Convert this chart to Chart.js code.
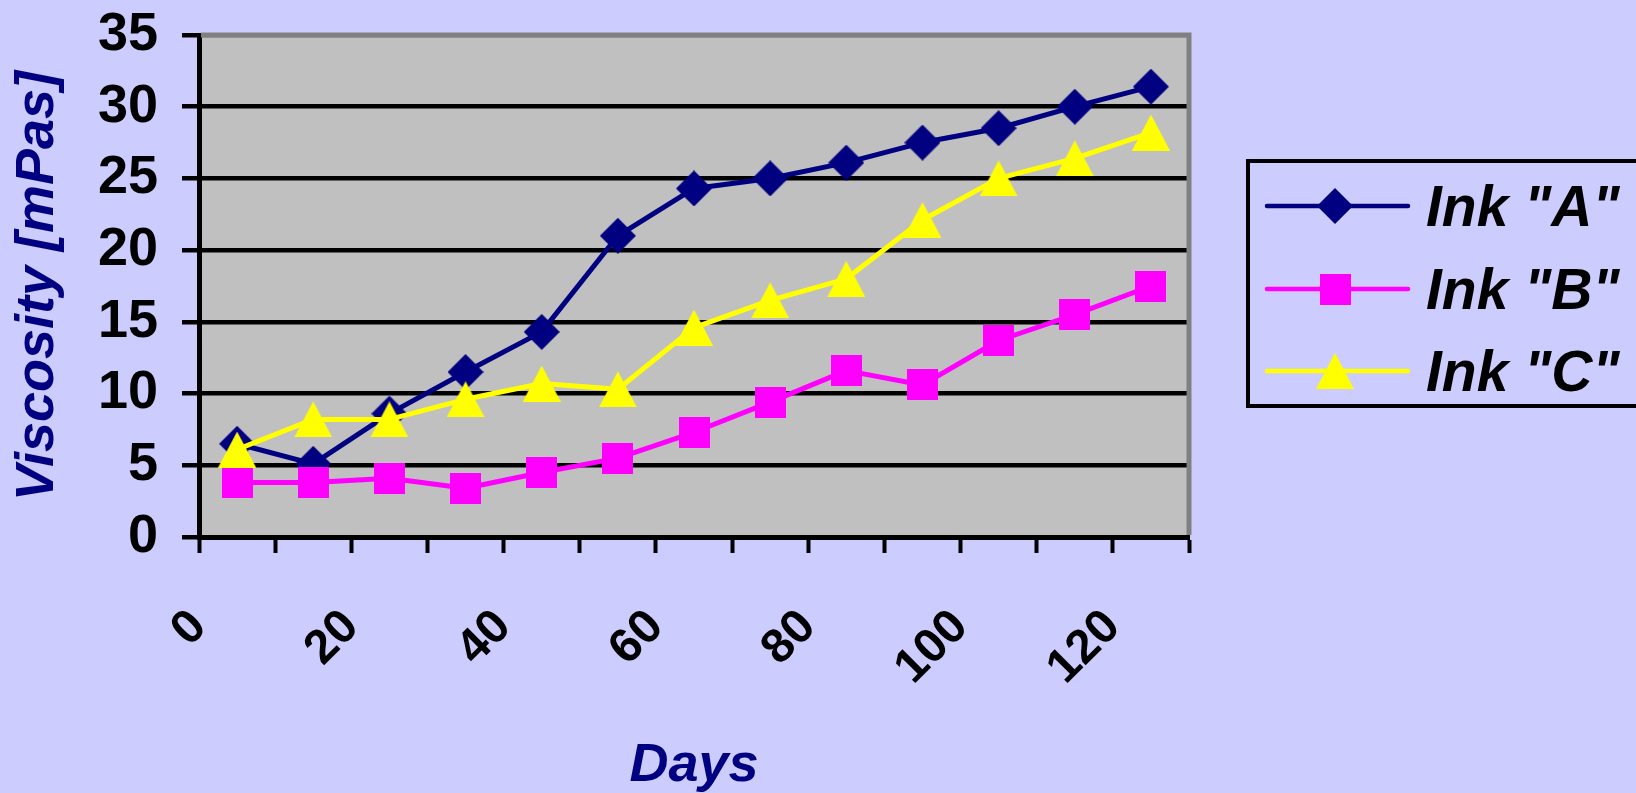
<!DOCTYPE html>
<html>
<head>
<meta charset="utf-8">
<title>Ink viscosity over time</title>
<script src="https://cdn.jsdelivr.net/npm/chart.js@4.4.1/dist/chart.umd.min.js"></script>
<style>
  html, body { margin: 0; padding: 0; background: #CCCCFF; overflow: hidden; }
  canvas { display: block; }
</style>
</head>
<body>
<canvas id="viscosityChart" width="1636" height="793"></canvas>
<script>
// Storage time in days for each measurement
const days = [5, 15, 25, 35, 45, 55, 65, 75, 85, 95, 105, 115, 125];

// Measured viscosity in mPas
const inkA = [6.5, 5.1, 8.6, 11.5, 14.3, 21.0, 24.3, 25.0, 26.1, 27.5, 28.5, 30.0, 31.4];
const inkB = [3.8, 3.8, 4.1, 3.4, 4.5, 5.5, 7.3, 9.4, 11.6, 10.6, 13.7, 15.5, 17.5];
const inkC = [6.1, 8.2, 8.2, 9.6, 10.7, 10.3, 14.6, 16.5, 18.0, 22.1, 25.0, 26.4, 28.2];

const seriesNames = ['Ink "A"', 'Ink "B"', 'Ink "C"'];
const seriesColors = ['#000080', '#FF00FF', '#FFFF00'];

// Day values that carry a printed label on the x axis
const xLabelValues = [0, 20, 40, 60, 80, 100, 120];

const FONT = '"Liberation Sans", Arial, Helvetica, sans-serif';

// Marker bitmaps, centred on each point
function makeMarker(shape, w, h, color) {
  const c = document.createElement('canvas');
  c.width = w; c.height = h;
  const g = c.getContext('2d');
  g.fillStyle = color;
  g.beginPath();
  if (shape === 'diamond') {
    g.moveTo(w / 2, 0); g.lineTo(w, h / 2); g.lineTo(w / 2, h); g.lineTo(0, h / 2);
  } else if (shape === 'square') {
    g.rect(0, 0, w, h);
  } else {
    g.moveTo(w / 2, 0); g.lineTo(w, h); g.lineTo(0, h);
  }
  g.closePath();
  g.fill();
  return c;
}

const markers = [
  makeMarker('diamond', 36, 36, seriesColors[0]),
  makeMarker('square', 31, 31, seriesColors[1]),
  makeMarker('triangle', 38, 36, seriesColors[2])
];

const toPoints = values => days.map((d, i) => ({ x: d, y: values[i] }));

// Light-blue page, grey plotting area and its grey top/right frame
const plotFrame = {
  id: 'plotFrame',
  beforeDraw(chart) {
    const { ctx, chartArea: a } = chart;
    ctx.save();
    ctx.fillStyle = '#CCCCFF';
    ctx.fillRect(0, 0, chart.width, chart.height);
    ctx.fillStyle = '#C0C0C0';
    ctx.fillRect(a.left, a.top, a.right - a.left, a.bottom - a.top);
    ctx.restore();
  },
  beforeDatasetsDraw(chart) {
    const { ctx, chartArea: a } = chart;
    ctx.save();
    ctx.strokeStyle = '#808080';
    ctx.lineWidth = 5;
    ctx.beginPath();
    ctx.moveTo(a.left + 2, a.top);
    ctx.lineTo(a.right, a.top);
    ctx.lineTo(a.right, a.bottom - 2);
    ctx.stroke();
    ctx.restore();
  }
};

// Boxed legend on the right, line sample with marker in the middle
const boxedLegend = {
  id: 'boxedLegend',
  afterDraw(chart) {
    const { ctx } = chart;
    const boxLeft = 1246, boxTop = 159, boxBottom = 408;
    const rows = [206, 289, 371];
    ctx.save();
    ctx.strokeStyle = '#000';
    ctx.lineWidth = 4;
    ctx.strokeRect(boxLeft + 2, boxTop + 2, 600, boxBottom - boxTop - 4);
    chart.data.datasets.forEach((ds, i) => {
      const y = rows[i];
      ctx.strokeStyle = ds.borderColor;
      ctx.lineWidth = 4.5;
      ctx.lineCap = 'round';
      ctx.beginPath();
      ctx.moveTo(1267, y);
      ctx.lineTo(1408, y);
      ctx.stroke();
      const m = ds.pointStyle;
      ctx.drawImage(m, 1335 - m.width / 2, y - m.height / 2);
      ctx.fillStyle = '#000';
      ctx.font = 'italic bold 57px ' + FONT;
      ctx.textBaseline = 'alphabetic';
      ctx.textAlign = 'left';
      ctx.fillText(ds.label, 1426, y + 20);
    });
    ctx.restore();
  }
};

const lineDataset = (i, values, order) => ({
  label: seriesNames[i],
  data: toPoints(values),
  borderColor: seriesColors[i],
  backgroundColor: seriesColors[i],
  borderWidth: 5,
  borderJoinStyle: 'round',
  borderCapStyle: 'round',
  tension: 0,
  pointStyle: markers[i],
  pointRadius: 18,
  pointHoverRadius: 18,
  order: order
});

new Chart(document.getElementById('viscosityChart'), {
  type: 'line',
  data: {
    datasets: [
      lineDataset(0, inkA, 3),
      lineDataset(1, inkB, 2),
      lineDataset(2, inkC, 1)
    ]
  },
  plugins: [plotFrame, boxedLegend],
  options: {
    responsive: false,
    animation: false,
    events: [],
    layout: { padding: { top: 35, right: 447, bottom: 0, left: 0 } },
    plugins: { legend: { display: false }, tooltip: { enabled: false } },
    scales: {
      x: {
        type: 'linear',
        min: 0,
        max: 130,
        afterFit(scale) {
          scale.height = 256;
          scale.paddingLeft = 0;
          scale.paddingRight = 0;
        },
        border: { display: true, color: '#000', width: 5 },
        grid: {
          drawOnChartArea: false,
          drawTicks: true,
          tickLength: 16,
          tickWidth: 4,
          tickColor: '#000'
        },
        ticks: {
          stepSize: 10,
          autoSkip: false,
          minRotation: 45,
          maxRotation: 45,
          padding: 46,
          color: '#000',
          font: { family: FONT, size: 48, weight: 'bold' },
          callback: v => (xLabelValues.includes(v) ? String(v) : '')
        },
        title: {
          display: true,
          text: 'Days',
          color: '#000080',
          font: { family: FONT, size: 54, weight: 'bold', style: 'italic', lineHeight: 1 },
          padding: { top: 0, bottom: 0 }
        }
      },
      y: {
        type: 'linear',
        min: 0,
        max: 35,
        afterFit(scale) {
          scale.width = 199;
          scale.paddingTop = 0;
          scale.paddingBottom = 0;
        },
        border: { display: true, color: '#000', width: 5 },
        grid: {
          drawOnChartArea: true,
          drawTicks: true,
          color: c => (c.tick && c.tick.value === 35 ? '#808080' : '#000'),
          lineWidth: 4.5,
          tickLength: 17,
          tickWidth: 4.5,
          tickColor: '#000'
        },
        ticks: {
          stepSize: 5,
          padding: 24,
          color: '#000',
          font: { family: FONT, size: 54, weight: 'bold' }
        },
        title: {
          display: true,
          text: 'Viscosity [mPas]',
          color: '#000080',
          font: { family: FONT, size: 54, weight: 'bold', style: 'italic', lineHeight: 1 },
          padding: { top: 11, bottom: 0 }
        }
      }
    }
  }
});
</script>
</body>
</html>
